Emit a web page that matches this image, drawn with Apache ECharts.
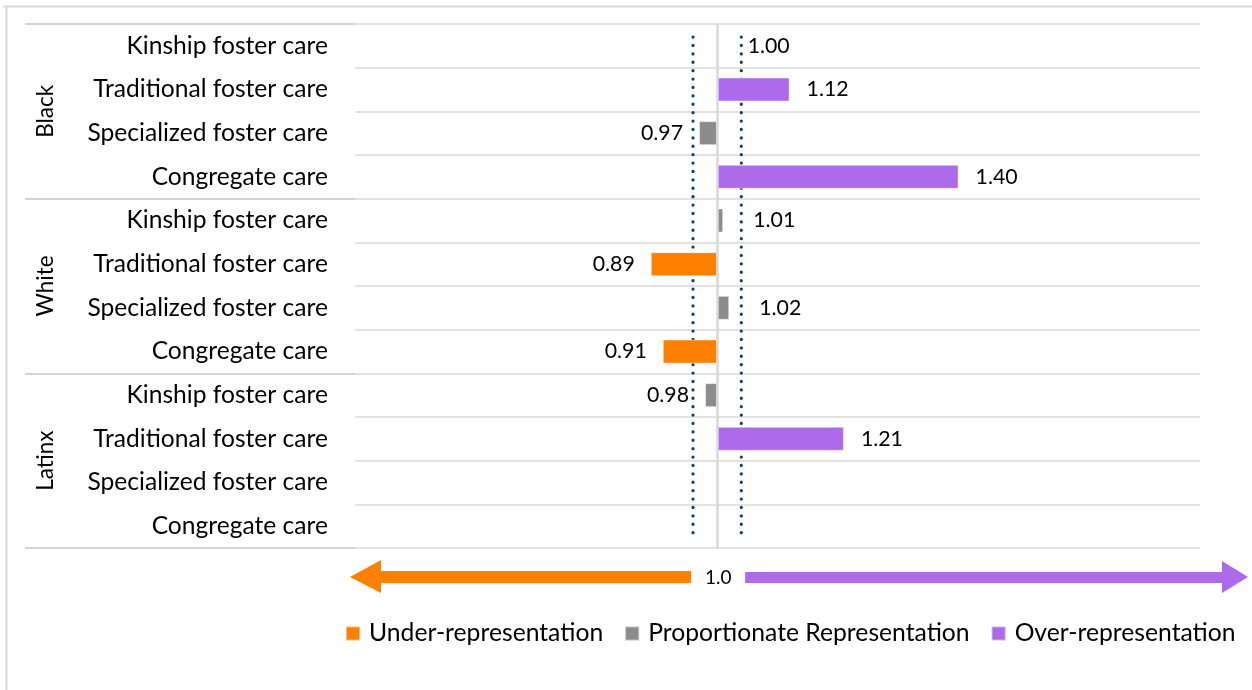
<!DOCTYPE html>
<html><head><meta charset="utf-8">
<script src="https://cdn.jsdelivr.net/npm/echarts@6/dist/echarts.min.js"></script>
<style>html,body{margin:0;padding:0;background:#fff}#c{width:1252px;height:690px}</style>
</head><body><div id="c"></div>
<script>
// ---- data ----
const groups = ['Black', 'White', 'Latinx'];
const placements = ['Kinship foster care', 'Traditional foster care', 'Specialized foster care', 'Congregate care'];
const blackValues = [1.00, 1.12, 0.97, 1.40];
const whiteValues = [1.01, 0.89, 1.02, 0.91];
const latinxValues = [0.98, 1.21, null, null];
const seriesNames = ['Under-representation', 'Proportionate Representation', 'Over-representation'];
const parityLabel = '1.0';
const parity = 1.0;
const lowerBound = 0.96;
const upperBound = 1.04;

// ---- styling ----
const seriesColors = ['#ff8000', '#8c8c8c', '#ad6aea'];
const FONT = 'Lato';
function fit(text, target) {
  const ctx = document.createElement('canvas').getContext('2d');
  ctx.font = '100px ' + FONT;
  return Math.round(target * 100 / ctx.measureText(text).width * 10) / 10;
}
const catSize = fit('Specialized foster care', 241);
const legendSize = fit('Under-representation', 234);
const valSize = fit('1.12', 42);
const groupSize = fit('Black', 53);

const categories = [];
groups.forEach(() => placements.forEach(p => categories.push(p)));
const values = [].concat(blackValues, whiteValues, latinxValues);

const xMin = -0.6, xMax = 0.8;
const gridLeft = 355, gridRight = 52, gridTop = 24, gridBottom = 142;

function cls(v) { return v < lowerBound ? 0 : (v > upperBound ? 2 : 1); }

const series = seriesNames.map((name, k) => ({
  name: name,
  type: 'bar',
  stack: 'all',
  barWidth: 24,
  itemStyle: { color: seriesColors[k], borderColor: 'rgba(255,255,255,0.45)', borderWidth: 1 },
  data: values.map(v => {
    if (v == null || cls(v) !== k) return '-';
    const d = +(v - parity).toFixed(4);
    const pos = d < 0 ? 'left' : 'right';
    const dist = d < 0 ? 16 : (d < upperBound - parity + 0.01 ? 30 : 17);
    return { value: d, label: { position: pos, distance: dist } };
  }),
  label: {
    show: true,
    fontFamily: FONT,
    fontSize: valSize,
    color: '#000',
    formatter: p => values[p.dataIndex].toFixed(2)
  },
  markLine: k === 1 ? {
    silent: true, symbol: 'none', label: { show: false },
    lineStyle: { color: '#d9d9d9', width: 2.5, type: 'solid' },
    data: [{ xAxis: 0 }]
  } : undefined
}));

const chart = echarts.init(document.getElementById('c'), null, { renderer: 'canvas' });
chart.setOption({
  animation: false,
  backgroundColor: '#fff',
  textStyle: { fontFamily: FONT },
  grid: { left: gridLeft, right: gridRight, top: gridTop, bottom: gridBottom, containLabel: false },
  xAxis: { type: 'value', min: xMin, max: xMax, show: false },
  yAxis: [{
    type: 'category', data: categories, inverse: true,
    axisLine: { show: false }, axisTick: { show: false },
    axisLabel: { interval: 0, margin: 27, fontSize: catSize, color: '#000', fontFamily: FONT },
    splitLine: { show: true, interval: 0, lineStyle: { color: '#d9d9d9', width: 1.5 } }
  }, {
    type: 'category', data: groups, inverse: true, position: 'left', offset: 0,
    axisLine: { show: false },
    axisTick: { show: true, length: 330, interval: 0, lineStyle: { color: '#d4d4d4', width: 2 } },
    axisLabel: { rotate: 90, margin: 298, fontSize: groupSize, color: '#000', fontFamily: FONT },
    splitLine: { show: false }
  }],
  legend: {
    data: seriesNames, left: 345, top: 621, padding: 0, itemWidth: 14, itemHeight: 14, itemGap: 21,
    icon: 'rect',
    textStyle: { fontSize: legendSize, color: '#000', fontFamily: FONT, padding: [0, 0, 0, 4], lineHeight: 24 }
  },
  series: series
});

// decorations derived from the axes
const x0 = chart.convertToPixel({ xAxisIndex: 0 }, 0);
const xLo = chart.convertToPixel({ xAxisIndex: 0 }, lowerBound - parity);
const xHi = chart.convertToPixel({ xAxisIndex: 0 }, upperBound - parity);
const ay = 577;
function arrowLeft(tip, end, color) {
  return { type: 'polygon', silent: true, shape: { points: [
    [tip, ay], [tip + 31, ay - 17], [tip + 31, ay - 6], [end, ay - 6], [end, ay + 6], [tip + 31, ay + 6], [tip + 31, ay + 16]
  ] }, style: { fill: color } };
}
function arrowRight(start, tip, color) {
  return { type: 'polygon', silent: true, shape: { points: [
    [start, ay - 5], [tip - 26, ay - 5], [tip - 26, ay - 16], [tip, ay], [tip - 26, ay + 16], [tip - 26, ay + 6], [start, ay + 6]
  ] }, style: { fill: color } };
}
const dotted = x => ({ type: 'line', silent: true, shape: { x1: x, y1: 37, x2: x, y2: 541 },
  style: { stroke: '#0d3f6e', lineWidth: 3.2, lineDash: [0.1, 8.3], lineCap: 'round' } });
chart.setOption({
  graphic: [
    { type: 'line', silent: true, shape: { x1: 3, y1: 6.5, x2: 1252, y2: 6.5 }, style: { stroke: '#d9d9d9', lineWidth: 2 } },
    { type: 'line', silent: true, shape: { x1: 6.5, y1: 6, x2: 6.5, y2: 690 }, style: { stroke: '#d9d9d9', lineWidth: 2 } },
    dotted(xLo), dotted(xHi),
    arrowLeft(350, x0 - 26, seriesColors[0]),
    arrowRight(x0 + 28, 1248, seriesColors[2]),
    { type: 'text', silent: true, style: { text: parityLabel, x: x0 + 1, y: ay + 1, align: 'center', verticalAlign: 'middle',
      fontSize: 19, fontFamily: FONT, fill: '#000' } }
  ]
});
</script>
</body></html>
